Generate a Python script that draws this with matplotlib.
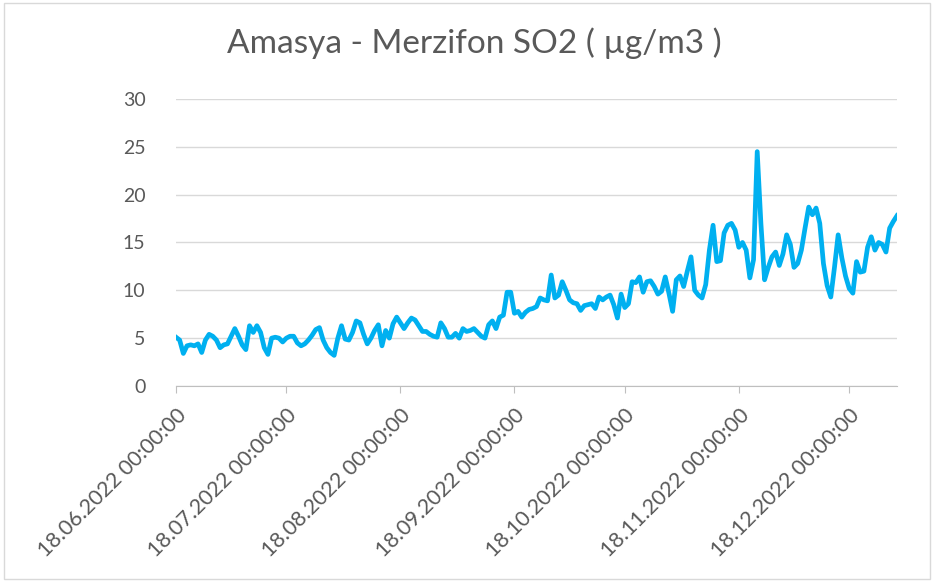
import matplotlib.pyplot as plt
import matplotlib.dates as mdates
from matplotlib.patches import Rectangle
import pandas as pd

plt.rcParams['font.family'] = ['Lato', 'DejaVu Sans']

title = "Amasya - Merzifon SO2 ( µg/m3 )"
start_date = "2022-06-18"

# daily SO2 values
so2 = [
    5.1, 4.8, 3.4, 4.2, 4.3, 4.2, 4.4, 3.5, 4.8, 5.4, 5.2, 4.8, 4.0, 4.3, 4.4, 5.2,
    6.0, 5.2, 4.3, 3.8, 6.3, 5.6, 6.3, 5.6, 4.0, 3.3, 5.0, 5.1, 5.0, 4.6, 5.0,
    5.2, 5.2, 4.5, 4.2, 4.4, 4.8, 5.3, 5.9, 6.1, 4.8, 4.0, 3.5, 3.2, 5.0, 6.3,
    4.9, 4.8, 5.6, 6.8, 6.6, 5.4, 4.4, 5.0, 5.8, 6.4, 4.2, 5.8, 5.0, 6.5, 7.2, 6.6,
    6.0, 6.6, 7.1, 6.9, 6.3, 5.7, 5.7, 5.4, 5.2, 5.1, 6.6, 6.0, 5.1, 5.1, 5.5,
    5.0, 6.0, 5.7, 5.8, 6.0, 5.6, 5.2, 5.0, 6.4, 6.8, 6.0, 7.2, 7.4, 9.8, 9.8, 7.6,
    7.8, 7.2, 7.7, 8.0, 8.1, 8.3, 9.2, 9.0, 8.9, 11.6, 9.2, 9.5, 10.9, 10.0, 9.0,
    8.7, 8.6, 7.9, 8.4, 8.5, 8.6, 8.1, 9.3, 9.0, 9.3, 9.5, 8.5, 7.1, 9.6, 8.2,
    8.6, 10.9, 10.8, 11.4, 9.8, 10.9, 11.0, 10.4, 9.6, 9.9, 11.4, 9.7, 7.8, 11.1,
    11.5, 10.4, 12.0, 13.5, 10.0, 9.5, 9.2, 10.6, 14.2, 16.8, 13.0, 13.1, 16.0,
    16.8, 17.0, 16.3, 14.5,
    15.0, 14.2, 11.3, 13.2, 24.5, 17.0, 11.1, 12.4, 13.5, 14.0, 12.6, 13.8, 15.8,
    14.8, 12.4, 12.8, 14.2, 16.5, 18.7, 17.9, 18.6, 17.0, 12.8, 10.5, 9.3, 12.4,
    15.8, 13.4, 11.5, 10.2, 9.7, 13.0, 11.9, 12.0, 14.5, 15.6, 14.2, 15.0, 14.8,
    14.0, 16.5, 17.2, 17.8,
]
dates = pd.date_range(start_date, periods=len(so2), freq="D")
tick_dates = pd.date_range(start_date, periods=7, freq=pd.DateOffset(months=1))

fig = plt.figure(figsize=(9.34, 5.82), dpi=100)
ax = fig.add_axes([0.1884, 0.3368, 0.9604 - 0.1884, 0.8299 - 0.3368])

ax.plot(dates, so2, color="#00B0F0", linewidth=3.4, solid_joinstyle="round")

ax.set_xlim(dates[0], dates[-1])
ax.set_ylim(0, 30)
ax.set_yticks(range(0, 31, 5))
ax.set_xticks(tick_dates)
ax.xaxis.set_major_formatter(mdates.DateFormatter("%d.%m.%Y %H:%M:%S"))
plt.setp(ax.get_xticklabels(), rotation=45, ha="right", rotation_mode="anchor")

ax.grid(axis="y", color="#d9d9d9", linewidth=1)
ax.set_axisbelow(True)
for side in ["top", "right", "left"]:
    ax.spines[side].set_visible(False)
ax.spines["bottom"].set_color("#bfbfbf")
ax.tick_params(axis="y", length=0, labelsize=14, labelcolor="#595959", pad=22)
ax.tick_params(axis="x", length=5, color="#bfbfbf", labelsize=15.5,
               labelcolor="#595959", pad=9)

fig.text(0.508, 0.925, title, ha="center", va="center", fontsize=24,
         color="#595959")

fig.patches.append(Rectangle((0.004, 0.006), 0.992, 0.988, transform=fig.transFigure,
                             fill=False, edgecolor="#d9d9d9", linewidth=1))

fig.savefig("out.png", dpi=100)
